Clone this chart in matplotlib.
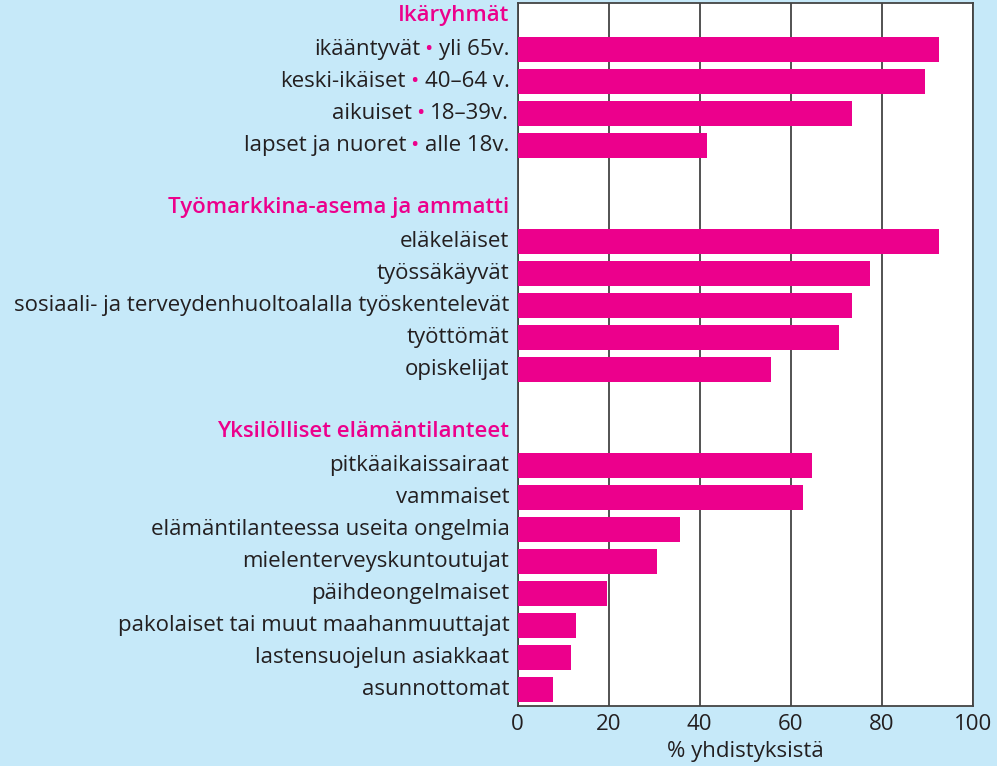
"""Yhdistysten kohderyhmät: vaakapylväät ryhmiteltynä."""

import matplotlib
matplotlib.use("Agg")
import matplotlib.pyplot as plt

PINK = "#ec008c"
BG = "#c6e9f9"
INK = "#231f20"
FONT = "Open Sans"
FS = 16

# --- data -------------------------------------------------------------
group_titles = ["Ikäryhmät", "Työmarkkina-asema ja ammatti", "Yksilölliset elämäntilanteet"]

age_labels = ["ikääntyvät", "keski-ikäiset", "aikuiset", "lapset ja nuoret"]
age_ranges = ["yli 65v.", "40–64 v.", "18–39v.", "alle 18v."]
age_values = [92.6, 89.5, 73.5, 41.6]

work_labels = ["eläkeläiset", "työssäkäyvät",
               "sosiaali- ja terveydenhuoltoalalla työskentelevät",
               "työttömät", "opiskelijat"]
work_values = [92.6, 77.4, 73.5, 70.6, 55.7]

life_labels = ["pitkäaikaissairaat", "vammaiset", "elämäntilanteessa useita ongelmia",
               "mielenterveyskuntoutujat", "päihdeongelmaiset",
               "pakolaiset tai muut maahanmuuttajat", "lastensuojelun asiakkaat",
               "asunnottomat"]
life_values = [64.7, 62.7, 35.7, 30.7, 19.6, 12.8, 11.7, 7.7]

x_ticks = [0, 20, 40, 60, 80, 100]
x_label = "% yhdistyksistä"

groups = [
    (group_titles[0], list(zip(age_labels, age_ranges)), age_values),
    (group_titles[1], [(l, None) for l in work_labels], work_values),
    (group_titles[2], [(l, None) for l in life_labels], life_values),
]

# --- figure -------------------------------------------------------------
fig = plt.figure(figsize=(9.97, 7.66), dpi=100, facecolor=BG)
ax = fig.add_axes([0.5193, 0.0783, 0.4563, 0.9177])
ax.set_facecolor("white")

label_kw = dict(xycoords=("axes fraction", "data"), textcoords="offset points",
                ha="right", va="center", fontsize=FS, family=FONT,
                annotation_clip=False)

row = 0
last_row = 0
for gi, (title, labels, values) in enumerate(groups):
    if gi > 0:
        row += 1  # tyhjä rivi ryhmien väliin
    ax.annotate(title, xy=(0, row), xytext=(-6, 1), color=PINK,
                fontweight="semibold", **label_kw)
    row += 1
    for (name, extra), val in zip(labels, values):
        ax.barh(row, val, height=0.78, color=PINK, zorder=3)
        if extra is None:
            ax.annotate(name, xy=(0, row), xytext=(-6, 0), color=INK, **label_kw)
        else:
            right = ax.annotate(extra, xy=(0, row), xytext=(-6, 0), color=INK, **label_kw)
            dot = ax.annotate("•", xy=(0, 0), xycoords=right, xytext=(-4.5, 0),
                              textcoords="offset points", ha="right", va="bottom",
                              color=PINK, fontsize=FS, family=FONT)
            ax.annotate(name, xy=(0, 0), xycoords=dot, xytext=(-3, 0),
                        textcoords="offset points", ha="right", va="bottom",
                        color=INK, fontsize=FS, family=FONT)
        last_row = row
        row += 1

ax.set_ylim(last_row + 0.53, -0.44)
ax.set_xlim(0, 100)
ax.set_yticks([])
ax.set_xticks(x_ticks)
ax.tick_params(axis="x", length=0, pad=6, labelsize=FS, labelcolor=INK)
for lab in ax.get_xticklabels():
    lab.set_family(FONT)
ax.set_xlabel(x_label, fontsize=FS, family=FONT, color=INK, labelpad=4)

ax.grid(axis="x", color="#444444", linewidth=1.3, zorder=1)
ax.set_axisbelow(True)
for sp in ax.spines.values():
    sp.set_color("#444444")
    sp.set_linewidth(1.3)

fig.savefig("out.png", dpi=100, facecolor=BG)
